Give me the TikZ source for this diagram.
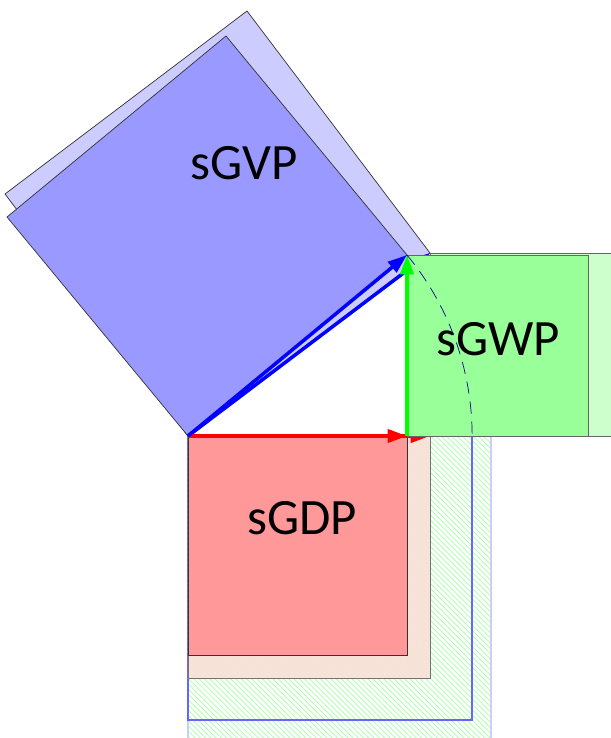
\documentclass[tikz,border=0pt]{standalone}
\usepackage{fontspec}
\setmainfont{Carlito}
\usetikzlibrary{arrows.meta}
\usetikzlibrary{patterns}
\usetikzlibrary{calc}

\definecolor{beige}{RGB}{244,228,214}
\tikzset{
  vec/.style={line width=2pt, -{Triangle[length=11pt,width=7.5pt]}},
  sq/.style={draw=black!80, line width=0.4pt},
  lbl/.style={font=\fontsize{29}{32}\selectfont},
}

\begin{document}
\begin{tikzpicture}[x=0.02cm,y=0.02cm]
   \useasboundingbox (-188,-302) rectangle (422,436);
   \pgfmathsetmacro{\hv}{veclen(219,181)}
   \pgfmathsetmacro{\hw}{veclen(242,183)}
   \pgfmathsetmacro{\ang}{atan2(181,219)}

   \coordinate (o) at (0,0);
   \coordinate (d0) at (219,0);
   \coordinate (w0) at (219,181);
   \coordinate (d1) at (242,0);
   \coordinate (w1) at (242,183);

   % squares of |V| laid down
   \draw[draw=blue!20, line width=1.1pt, pattern=north west lines,
      pattern color=green!35] (o) rectangle (\hw,-\hw);
   \draw[draw=blue!60, line width=0.9pt] (o) rectangle (\hv,-\hv);

   % sGDP
   \draw[draw=black!55, preaction={fill=beige}, pattern=north west lines,
      pattern color=red!12] (o) rectangle ($(o)+(242,-242)$);
   \draw[sq, fill=red!40] (o) rectangle ($(o)+(219,-219)$);

   % sGVP
   \draw[sq, fill=blue!20] (o) -- (w1) -- ($(w1)+(-183,242)$) -- (-183,242) -- cycle;
   \draw[sq, fill=blue!40] (o) -- (w0) -- ($(w0)+(-181,219)$) -- (-181,219) -- cycle;

   \draw[vec, red] (o) -- (d1);
   \draw[vec, blue] (o) -- (w1);

   % sGWP
   \draw[sq, draw=black!60, fill=green!20] (d1) rectangle ($(d1)+(183,183)$);
   \draw[sq, draw=black!60, fill=green!40] (d0) rectangle ($(d0)+(181,181)$);

   \draw[vec, red] (o) -- (d0);
   \draw[vec, green] (d0) -- (w0);
   \draw[vec, blue] (o) -- (w0);

   \draw[blue!60!black, line width=0.4pt, dash pattern=on 7pt off 4.5pt]
      (w0) arc[start angle=\ang, end angle=0, radius=\hv];

   \node[lbl] (vlab) at (56,273) {sGVP};
   \node[lbl] (wlab) at (310,97) {sGWP};
   \node[lbl] (dlab) at (114,-82) {sGDP};
\end{tikzpicture}
\end{document}
